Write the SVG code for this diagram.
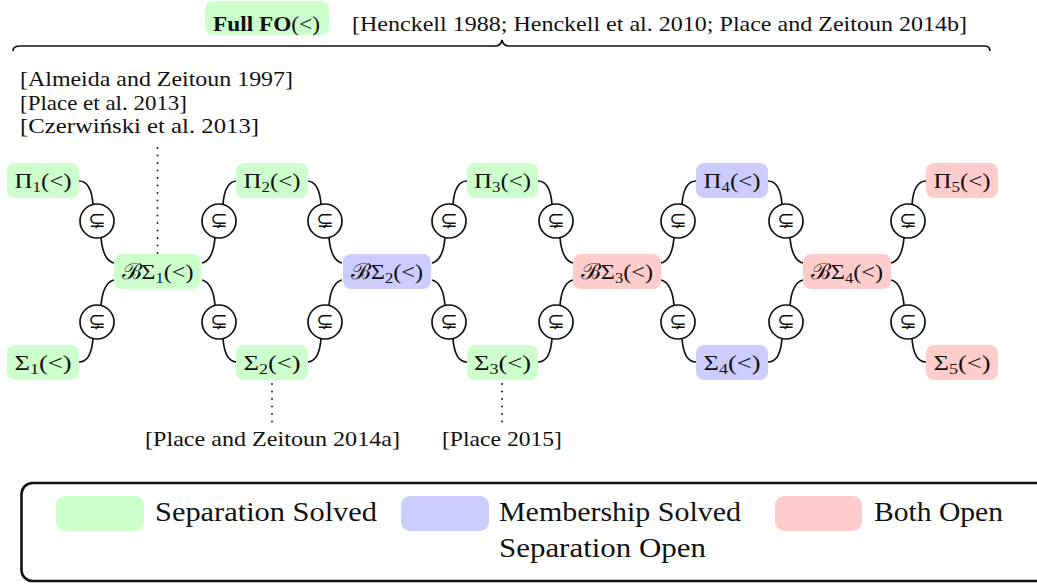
<svg xmlns="http://www.w3.org/2000/svg" width="1037" height="584" viewBox="0 0 1037 584">
<defs>
<style>
.t{font-family:"Liberation Serif","DejaVu Serif",serif;fill:#111;}
.n{font-size:22px;text-anchor:middle;}
.g{fill:#ccffcc;}
.b{fill:#ccccff;}
.r{fill:#ffcccc;}
.e{fill:none;stroke:#111;stroke-width:1.7;}
.c{fill:#fff;stroke:#111;stroke-width:1.7;}
.s{font-family:"DejaVu Serif","DejaVu Sans",serif;font-size:21px;text-anchor:middle;fill:#111;}
.d{fill:none;stroke:#222;stroke-width:2;stroke-dasharray:0 7.5;stroke-linecap:round;}
</style>
<g id="pA">
<path class="e" d="M -18,-40 C -9,-40 -5,-30 -4,-16.5"/>
<path class="e" d="M 4,16.5 C 5,29 9,40 17,42"/>
<circle class="c" cx="0" cy="0" r="17"/>
</g>
</defs>
<rect width="1037" height="584" fill="#fff"/>

<g id="header">
<rect class="g" x="205" y="1" width="124" height="34" rx="8"/>
<text class="t" x="213" y="31" font-size="21" textLength="107" lengthAdjust="spacingAndGlyphs"><tspan font-weight="bold">Full FO</tspan>(&lt;)</text>
<text class="t" x="352" y="31" font-size="21" textLength="615" lengthAdjust="spacingAndGlyphs">[Henckell 1988; Henckell et al. 2010; Place and Zeitoun 2014b]</text>
<path class="e" d="M 13,51 Q 13,46 20,46 L 495,46 Q 501,46 502,40 Q 503,46 509,46 L 984,46 Q 990,46 990,51"/>
</g>

<g id="refs">
<text class="t" x="20" y="86" font-size="21.5" textLength="273" lengthAdjust="spacingAndGlyphs">[Almeida and Zeitoun 1997]</text>
<text class="t" x="20" y="110" font-size="21.5" textLength="167" lengthAdjust="spacingAndGlyphs">[Place et al. 2013]</text>
<text class="t" x="20" y="133" font-size="21.5" textLength="239" lengthAdjust="spacingAndGlyphs">[Czerwiński et al. 2013]</text>
<line class="d" x1="157.5" y1="148" x2="157.5" y2="254"/>
<line class="d" x1="272" y1="384" x2="272" y2="424"/>
<line class="d" x1="502" y1="384" x2="502" y2="424"/>
<text class="t" x="145" y="446" font-size="21.5" textLength="255" lengthAdjust="spacingAndGlyphs">[Place and Zeitoun 2014a]</text>
<text class="t" x="442" y="446" font-size="21.5" textLength="120" lengthAdjust="spacingAndGlyphs">[Place 2015]</text>
</g>

<g id="connectors">
<use href="#pA" transform="translate(97,221)"/>
<use href="#pA" transform="translate(219,221) scale(-1,1)"/>
<use href="#pA" transform="translate(325,221)"/>
<use href="#pA" transform="translate(449,221) scale(-1,1)"/>
<use href="#pA" transform="translate(556,221)"/>
<use href="#pA" transform="translate(678,221) scale(-1,1)"/>
<use href="#pA" transform="translate(786,221)"/>
<use href="#pA" transform="translate(908,221) scale(-1,1)"/>
<use href="#pA" transform="translate(97,322) scale(1,-1)"/>
<use href="#pA" transform="translate(219,322) scale(-1,-1)"/>
<use href="#pA" transform="translate(325,322) scale(1,-1)"/>
<use href="#pA" transform="translate(449,322) scale(-1,-1)"/>
<use href="#pA" transform="translate(556,322) scale(1,-1)"/>
<use href="#pA" transform="translate(678,322) scale(-1,-1)"/>
<use href="#pA" transform="translate(786,322) scale(1,-1)"/>
<use href="#pA" transform="translate(908,322) scale(-1,-1)"/>
<text class="s" x="97" y="227">⊊</text>
<text class="s" x="219" y="227">⊊</text>
<text class="s" x="325" y="227">⊊</text>
<text class="s" x="449" y="227">⊊</text>
<text class="s" x="556" y="227">⊊</text>
<text class="s" x="678" y="227">⊊</text>
<text class="s" x="786" y="227">⊊</text>
<text class="s" x="908" y="227">⊊</text>
<text class="s" x="97" y="328">⊊</text>
<text class="s" x="219" y="328">⊊</text>
<text class="s" x="325" y="328">⊊</text>
<text class="s" x="449" y="328">⊊</text>
<text class="s" x="556" y="328">⊊</text>
<text class="s" x="678" y="328">⊊</text>
<text class="s" x="786" y="328">⊊</text>
<text class="s" x="908" y="328">⊊</text>
</g>

<g id="Pi1"><rect class="g" x="7" y="163" width="72" height="35" rx="8"/><text class="t n" x="43" y="188" textLength="57" lengthAdjust="spacingAndGlyphs">Π<tspan font-size="15" dy="4">1</tspan><tspan dy="-4">(&lt;)</tspan></text></g>
<g id="Sigma1"><rect class="g" x="7" y="345" width="72" height="35" rx="8"/><text class="t n" x="43" y="370" textLength="57" lengthAdjust="spacingAndGlyphs">Σ<tspan font-size="15" dy="4">1</tspan><tspan dy="-4">(&lt;)</tspan></text></g>
<g id="BSigma1"><rect class="g" x="114" y="254" width="87" height="35" rx="8"/><text class="t n" x="157.5" y="279" textLength="72" lengthAdjust="spacingAndGlyphs">ℬΣ<tspan font-size="15" dy="4">1</tspan><tspan dy="-4">(&lt;)</tspan></text></g>
<g id="Pi2"><rect class="g" x="236" y="163" width="72" height="35" rx="8"/><text class="t n" x="272" y="188" textLength="57" lengthAdjust="spacingAndGlyphs">Π<tspan font-size="15" dy="4">2</tspan><tspan dy="-4">(&lt;)</tspan></text></g>
<g id="Sigma2"><rect class="g" x="236" y="345" width="72" height="35" rx="8"/><text class="t n" x="272" y="370" textLength="57" lengthAdjust="spacingAndGlyphs">Σ<tspan font-size="15" dy="4">2</tspan><tspan dy="-4">(&lt;)</tspan></text></g>
<g id="BSigma2"><rect class="b" x="343" y="254" width="88" height="35" rx="8"/><text class="t n" x="387" y="279" textLength="72" lengthAdjust="spacingAndGlyphs">ℬΣ<tspan font-size="15" dy="4">2</tspan><tspan dy="-4">(&lt;)</tspan></text></g>
<g id="Pi3"><rect class="g" x="467" y="163" width="71" height="35" rx="8"/><text class="t n" x="502.5" y="188" textLength="57" lengthAdjust="spacingAndGlyphs">Π<tspan font-size="15" dy="4">3</tspan><tspan dy="-4">(&lt;)</tspan></text></g>
<g id="Sigma3"><rect class="g" x="467" y="345" width="71" height="35" rx="8"/><text class="t n" x="502.5" y="370" textLength="57" lengthAdjust="spacingAndGlyphs">Σ<tspan font-size="15" dy="4">3</tspan><tspan dy="-4">(&lt;)</tspan></text></g>
<g id="BSigma3"><rect class="r" x="573" y="254" width="88" height="35" rx="8"/><text class="t n" x="617" y="279" textLength="72" lengthAdjust="spacingAndGlyphs">ℬΣ<tspan font-size="15" dy="4">3</tspan><tspan dy="-4">(&lt;)</tspan></text></g>
<g id="Pi4"><rect class="b" x="696" y="163" width="72" height="35" rx="8"/><text class="t n" x="732" y="188" textLength="57" lengthAdjust="spacingAndGlyphs">Π<tspan font-size="15" dy="4">4</tspan><tspan dy="-4">(&lt;)</tspan></text></g>
<g id="Sigma4"><rect class="b" x="696" y="345" width="72" height="35" rx="8"/><text class="t n" x="732" y="370" textLength="57" lengthAdjust="spacingAndGlyphs">Σ<tspan font-size="15" dy="4">4</tspan><tspan dy="-4">(&lt;)</tspan></text></g>
<g id="BSigma4"><rect class="r" x="803" y="254" width="88" height="35" rx="8"/><text class="t n" x="847" y="279" textLength="72" lengthAdjust="spacingAndGlyphs">ℬΣ<tspan font-size="15" dy="4">4</tspan><tspan dy="-4">(&lt;)</tspan></text></g>
<g id="Pi5"><rect class="r" x="926" y="163" width="72" height="35" rx="8"/><text class="t n" x="962" y="188" textLength="57" lengthAdjust="spacingAndGlyphs">Π<tspan font-size="15" dy="4">5</tspan><tspan dy="-4">(&lt;)</tspan></text></g>
<g id="Sigma5"><rect class="r" x="926" y="345" width="72" height="35" rx="8"/><text class="t n" x="962" y="370" textLength="57" lengthAdjust="spacingAndGlyphs">Σ<tspan font-size="15" dy="4">5</tspan><tspan dy="-4">(&lt;)</tspan></text></g>

<g id="legend">
<rect x="21.5" y="483" width="1040" height="98" rx="11" fill="none" stroke="#111" stroke-width="2.6"/>
<rect class="g" x="56" y="496" width="88" height="35" rx="9"/>
<text class="t" x="155" y="521" font-size="27" textLength="222" lengthAdjust="spacingAndGlyphs">Separation Solved</text>
<rect class="b" x="401" y="496" width="88" height="35" rx="9"/>
<text class="t" x="499" y="521" font-size="27" textLength="242" lengthAdjust="spacingAndGlyphs">Membership Solved</text>
<text class="t" x="499" y="557" font-size="27" textLength="207" lengthAdjust="spacingAndGlyphs">Separation Open</text>
<rect class="r" x="775" y="496" width="87" height="35" rx="9"/>
<text class="t" x="874" y="521" font-size="27" textLength="129" lengthAdjust="spacingAndGlyphs">Both Open</text>
</g>
</svg>
